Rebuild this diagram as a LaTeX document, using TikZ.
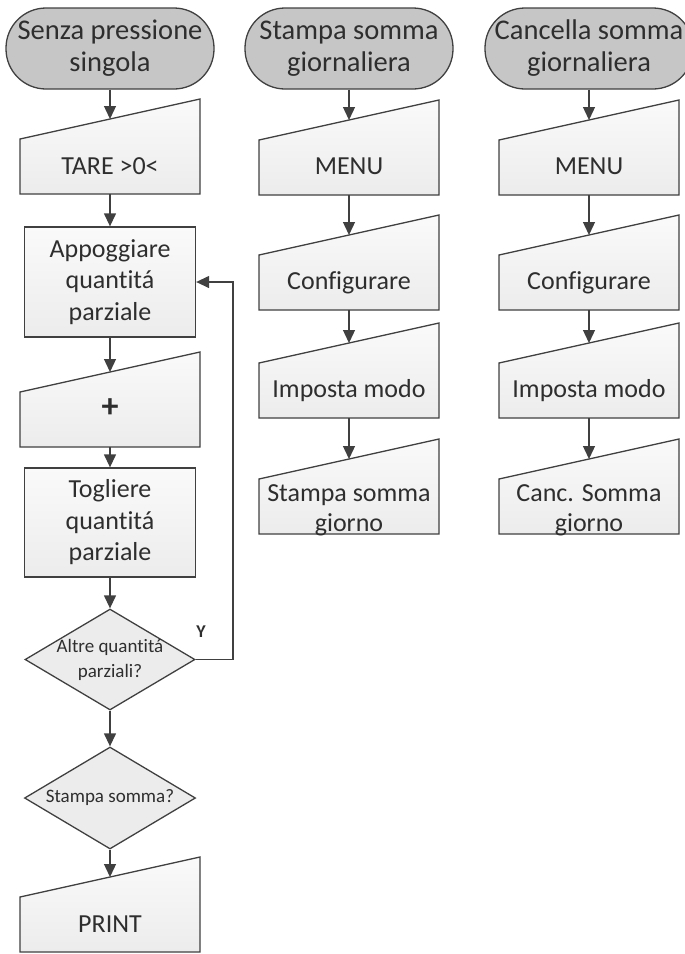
\documentclass[tikz,border=0pt]{standalone}
\usepackage{fontspec}
\setmainfont{Carlito}[Ligatures=NoCommon]
\usetikzlibrary{arrows.meta,shapes.geometric}

\definecolor{ink}{HTML}{404040}
\definecolor{txt}{HTML}{2E2E2E}
\definecolor{startfill}{HTML}{C6C6C6}
\definecolor{boxtop}{HTML}{FAFAFA}
\definecolor{boxfill}{HTML}{ECECEC}

\tikzset{
  flow/.style={draw=ink, line width=1.3pt},
  terminal/.style={flow, fill=startfill, rounded corners=40pt,
    minimum width=208pt, minimum height=81pt, inner sep=0pt, align=center,
    font=\fontsize{28.5}{32}\selectfont, text=txt},
  process/.style={flow, top color=boxtop, bottom color=boxfill,
    minimum width=171pt, inner sep=0pt, align=center,
    font=\fontsize{26}{31.5}\selectfont, text=txt},
  manualshape/.style={flow, top color=boxtop, bottom color=boxfill},
  boxtext/.style={align=center, inner sep=0pt,
    font=\fontsize{26}{30}\selectfont, text=txt},
  decision/.style={flow, diamond, fill=boxfill, inner sep=0pt},
  dtext/.style={align=center, inner sep=0pt,
    font=\fontsize{19}{25}\selectfont, text=txt},
  yestext/.style={inner sep=0pt, font=\fontsize{18}{20}\selectfont\bfseries, text=txt},
  arr/.style={draw=ink, line width=1.3pt, -{Triangle[length=13pt,width=12pt]}},
}

% manual input box: name, centre x, y of the high (right) corner, y of text centre, text
\newcommand\manualbox[5]{%
  \path[manualshape] (#2-90,#3+40) -- (#2+90,#3) -- (#2+90,#3+95) -- (#2-90,#3+95) -- cycle;
  \coordinate (#1-in) at (#2,#3+20);
  \coordinate (#1-out) at (#2,#3+95);
  \node[boxtext] (#1) at (#2,#4) {#5};
}

\begin{document}
\begin{tikzpicture}[x=1pt,y=-1pt]
  \useasboundingbox (0,0) rectangle (685,954);
  \clip (0,0) rectangle (685,954);

  % ---- column 1: weighing without single press
  \node[terminal] (t1) at (110,48.5) {Senza pressione\\singola};
  \manualbox{tare}{110}{99}{166}{TARE >0<}
  \node[process, minimum height=110pt] (app) at (110,282) {Appoggiare\\quantitá\\parziale};
  \manualbox{plus}{110}{352}{408}{{\fontsize{34}{34}\selectfont\bfseries +}}
  \node[process, minimum height=109pt] (tog) at (110,522.5) {Togliere\\quantitá\\parziale};
  \node[decision, minimum width=170pt, minimum height=101pt] (d1) at (110,659.5) {};
  \node[dtext] (d1t) at (d1.center) {Altre quantitá\\parziali?};
  \node[decision, minimum width=171pt, minimum height=102pt] (d2) at (110,798) {};
  \node[dtext] (d2t) at (d2.center) {Stampa somma?};
  \manualbox{print}{110}{857}{924}{PRINT}
  \node[yestext] (yes) at (201,632) {Y};
  \coordinate (loopturn) at (233,659.5);

  \draw[arr] (t1) -- (tare-in);
  \draw[arr] (tare-out) -- (app);
  \draw[arr] (app) -- (plus-in);
  \draw[arr] (plus-out) -- (tog);
  \draw[arr] (tog) -- (d1);
  \draw[arr] (d1) -- (d2);
  \draw[arr] (d2) -- (print-in);
  \draw[arr] (d1.east) -- (loopturn) |- (app.east);

  % ---- column 2: print daily total
  \node[terminal] (t2) at (349,48.5) {Stampa somma\\giornaliera};
  \manualbox{menuA}{349}{100}{166}{MENU}
  \manualbox{confA}{349}{215}{283}{Configurare}
  \manualbox{impA}{349}{323}{391}{Imposta modo}
  \manualbox{stpA}{349}{439}{510}{Stampa somma\\giorno}
  \draw[arr] (t2) -- (menuA-in);
  \draw[arr] (menuA-out) -- (confA-in);
  \draw[arr] (confA-out) -- (impA-in);
  \draw[arr] (impA-out) -- (stpA-in);

  % ---- column 3: clear daily total
  \node[terminal] (t3) at (589,48.5) {Cancella somma\\giornaliera};
  \manualbox{menuB}{589}{100}{166}{MENU}
  \manualbox{confB}{589}{215}{283}{Configurare}
  \manualbox{impB}{589}{323}{391}{Imposta modo}
  \manualbox{cncB}{589}{439}{510}{Canc. Somma\\giorno}
  \draw[arr] (t3) -- (menuB-in);
  \draw[arr] (menuB-out) -- (confB-in);
  \draw[arr] (confB-out) -- (impB-in);
  \draw[arr] (impB-out) -- (cncB-in);
\end{tikzpicture}
\end{document}
